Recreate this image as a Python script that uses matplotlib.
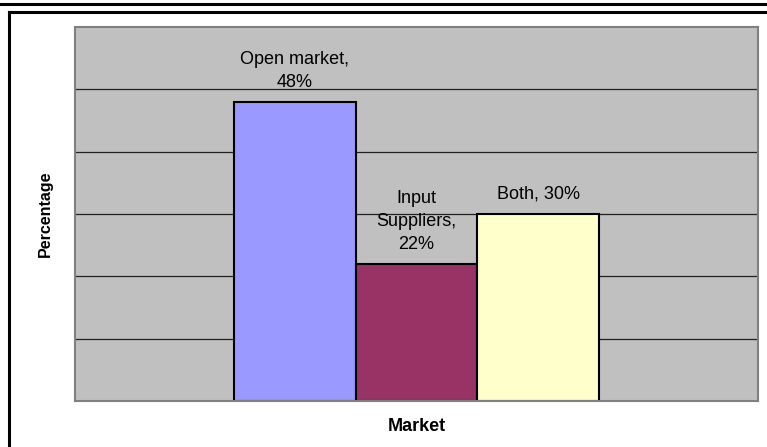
import matplotlib.pyplot as plt
from matplotlib.lines import Line2D

# Market outlet shares
categories = ['Open market', 'Input\nSuppliers', 'Both']
shares = [48, 22, 30]
label_texts = ['Open market,\n48%', 'Input\nSuppliers,\n22%', 'Both, 30%']
colors = ['#9999FF', '#993366', '#FFFFCC']

plt.rcParams['font.family'] = ['Liberation Sans', 'DejaVu Sans']

fig = plt.figure(figsize=(7.67, 4.47), dpi=100)
ax = fig.add_axes([75/767, 1 - 401/447, 683/767, 374/447])
ax.set_facecolor('#C0C0C0')

# grid lines every 10%
ax.set_ylim(0, 60)
ax.set_xlim(-2.8, 2.8)
for y in range(10, 60, 10):
    ax.axhline(y, color='#202020', lw=0.9, zorder=1)

xpos = [-1, 0, 1]
bars = ax.bar(xpos, shares, width=1.0, color=colors, edgecolor='black',
              linewidth=1.5, zorder=2)

for b, txt in zip(bars, label_texts):
    ax.annotate(txt, (b.get_x() + b.get_width() / 2, b.get_height()),
                xytext=(0, 8), textcoords='offset points',
                ha='center', va='bottom', fontsize=13, linespacing=1.45)

ax.set_xticks([])
ax.set_yticks([])
for s in ax.spines.values():
    s.set_color('#808080')
    s.set_linewidth(1.5)

ax.set_xlabel('Market', fontsize=13, fontweight='bold', labelpad=12)
ax.set_ylabel('Percentage', fontsize=11.5, fontweight='bold', labelpad=16)

# surrounding frame and the rule above it
fig.add_artist(Line2D([0, 1], [1 - 4/447, 1 - 4/447], color='black', lw=2.2,
                      transform=fig.transFigure))
fig.add_artist(Line2D([9/767, 1], [1 - 12/447, 1 - 12/447], color='black', lw=2.2,
                      transform=fig.transFigure))
fig.add_artist(Line2D([9/767, 9/767], [0, 1 - 12/447], color='black', lw=2.2,
                      transform=fig.transFigure))

fig.savefig('out.png', dpi=100)
